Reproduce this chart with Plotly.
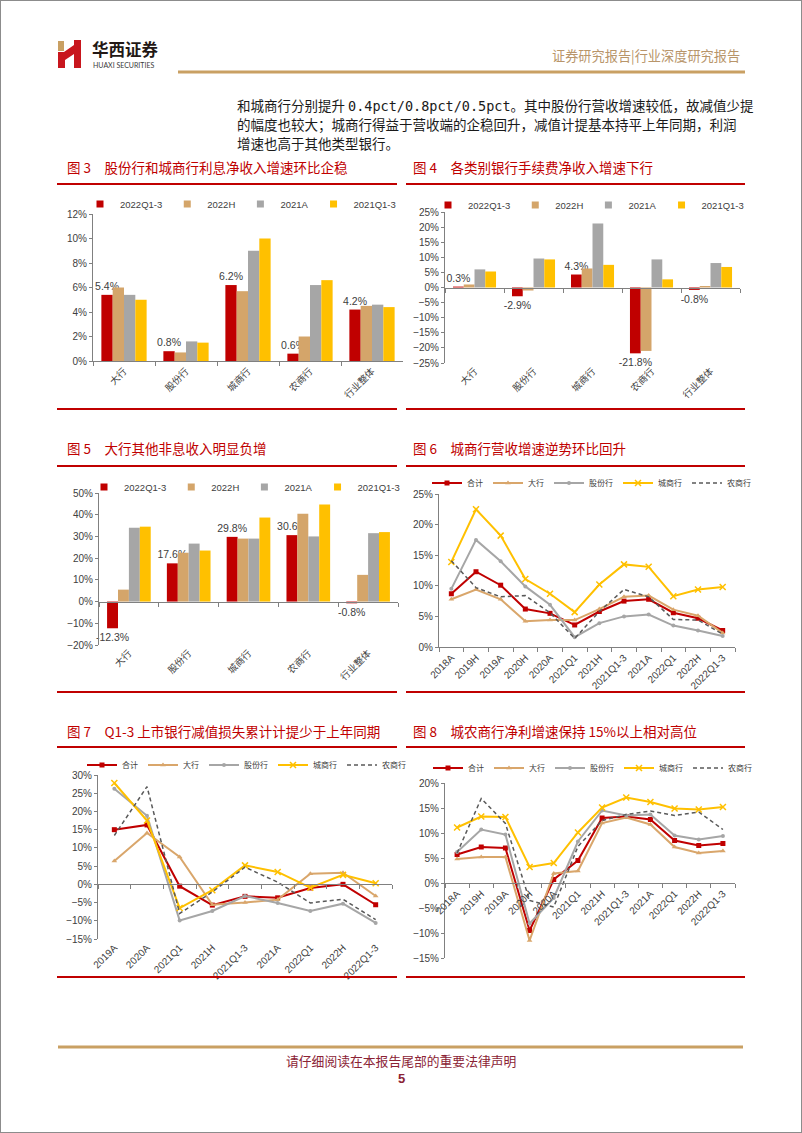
import plotly.graph_objects as go

W, H = 802, 1133
def X(p): return p / W
def Y(p): return 1 - p / H

LAT = "Liberation Sans, Arial, sans-serif"
CJK = "Noto Sans CJK SC, sans-serif"
AX = "#404040"
LINEC = "#808080"
RED = "#C00000"

# ---------------- data ----------------
banks = ["大行", "股份行", "城商行", "农商行", "行业整体"]
bar_series = ["2022Q1-3", "2022H", "2021A", "2021Q1-3"]
bar_colors = ["#C00000", "#D4A56A", "#A6A6A6", "#FFC000"]

# Fig 3: net interest income growth (%)
nii_2022q13 = [5.4, 0.8, 6.2, 0.6, 4.2]
nii_2022h = [6.0, 0.7, 5.7, 2.0, 4.5]
nii_2021a = [5.4, 1.6, 9.0, 6.2, 4.6]
nii_2021q13 = [5.0, 1.5, 10.0, 6.6, 4.4]

# Fig 4: fee income growth (%)
fee_2022q13 = [0.3, -2.9, 4.3, -21.8, -0.8]
fee_2022h = [1.0, -1.0, 6.3, -21.0, 0.5]
fee_2021a = [6.0, 9.6, 21.2, 9.3, 8.1]
fee_2021q13 = [5.3, 9.3, 7.5, 2.7, 6.8]

# Fig 5: other non-interest income growth (%)
oth_2022q13 = [-12.3, 17.6, 29.8, 30.6, -0.8]
oth_2022h = [5.5, 22.5, 29.0, 40.5, 12.3]
oth_2021a = [34.0, 26.7, 29.0, 30.0, 31.5]
oth_2021q13 = [34.5, 23.5, 38.7, 44.7, 32.0]

line_names = ["合计", "大行", "股份行", "城商行", "农商行"]
periods_a = ["2018A", "2019H", "2019A", "2020H", "2020A", "2021Q1", "2021H",
             "2021Q1-3", "2021A", "2022Q1", "2022H", "2022Q1-3"]
periods_b = ["2019A", "2020A", "2021Q1", "2021H", "2021Q1-3", "2021A",
             "2022Q1", "2022H", "2022Q1-3"]

# Fig 6: revenue growth (%)
rev_total = [8.7, 12.3, 10.1, 6.2, 5.5, 3.6, 5.8, 7.5, 7.8, 5.6, 4.7, 2.7]
rev_big = [7.8, 9.4, 7.8, 4.2, 4.4, 4.4, 6.2, 8.2, 8.4, 6.1, 5.1, 2.3]
rev_jsb = [9.5, 17.5, 14.0, 9.9, 6.9, 1.6, 3.9, 5.0, 5.3, 3.5, 2.7, 1.8]
rev_city = [13.9, 22.5, 18.2, 11.1, 8.7, 5.7, 10.2, 13.5, 13.1, 8.3, 9.4, 9.8]
rev_rural = [14.1, 9.7, 8.2, 8.4, 5.6, 1.4, 5.8, 9.4, 8.2, 4.5, 4.4, 2.1]

# Fig 7: impairment loss growth (%)
imp_total = [15.0, 16.3, -0.5, -5.7, -3.3, -3.7, -1.0, 0.0, -5.6]
imp_big = [6.4, 14.1, 7.5, -5.6, -5.0, -4.2, 2.9, 3.2, -3.2]
imp_jsb = [26.2, 18.8, -9.9, -7.3, -3.2, -5.1, -7.3, -5.3, -10.6]
imp_city = [27.8, 17.5, -6.5, -1.6, 5.2, 3.4, -0.9, 2.6, 0.3]
imp_rural = [13.4, 26.8, -8.0, -2.1, 4.7, 0.6, -5.1, -4.1, -9.7]

# Fig 8: net profit growth (%)
np_total = [5.7, 7.2, 7.0, -9.5, 0.7, 4.5, 13.0, 13.3, 12.7, 8.5, 7.5, 7.9]
np_big = [4.8, 5.2, 5.2, -11.5, 1.9, 2.4, 12.0, 13.1, 11.7, 7.2, 6.0, 6.4]
np_jsb = [6.2, 10.7, 9.7, -8.1, -3.0, 8.3, 14.5, 13.5, 13.7, 9.5, 8.7, 9.4]
np_city = [11.1, 13.3, 13.2, 3.2, 4.0, 10.1, 15.1, 17.1, 16.2, 14.9, 14.7, 15.2]
np_rural = [6.0, 16.9, 11.9, -3.5, -4.8, 7.3, 12.5, 13.7, 14.4, 13.5, 14.2, 10.7]

# ---------------- layout geometry ----------------
panels = {
    1: dict(x=(93, 403), y=(214, 361), r=(0, 12), d=2),
    2: dict(x=(445, 740), y=(212, 363), r=(-25, 25), d=5),
    3: dict(x=(99, 398), y=(493, 645), r=(-20, 50), d=10),
    4: dict(x=(439, 735), y=(494, 647), r=(0, 25), d=5),
    5: dict(x=(98, 392), y=(775, 939), r=(-15, 30), d=5),
    6: dict(x=(445, 735), y=(783, 958), r=(-15, 20), d=5),
}

def zero_pos(k):
    p = panels[k]
    y0, y1 = Y(p["y"][1]), Y(p["y"][0])
    return y0 + (y1 - y0) * (0 - p["r"][0]) / (p["r"][1] - p["r"][0])

def xref(k): return "x" if k == 1 else f"x{k}"
def yref(k): return "y" if k == 1 else f"y{k}"
def legref(k): return "legend" if k == 1 else f"legend{k}"

fig = go.Figure()

# ---------------- bar charts ----------------
bar_data = {
    1: [nii_2022q13, nii_2022h, nii_2021a, nii_2021q13],
    2: [fee_2022q13, fee_2022h, fee_2021a, fee_2021q13],
    3: [oth_2022q13, oth_2022h, oth_2021a, oth_2021q13],
}
for k, series in bar_data.items():
    for j, (name, vals) in enumerate(zip(bar_series, series)):
        kw = {}
        if j == 0:
            kw = dict(texttemplate="%{y:.1f}%", textposition="outside",
                      textfont=dict(family=LAT, size=10.5, color=AX),
                      constraintext="none", cliponaxis=False)
        fig.add_bar(x=banks, y=vals, name=name, marker=dict(color=bar_colors[j], line=dict(width=0)),
                    xaxis=xref(k), yaxis=yref(k), showlegend=False, hoverinfo="skip", **kw)
        fig.add_scatter(x=[None], y=[None], mode="markers", name=name,
                        marker=dict(symbol="square", size=7, color=bar_colors[j]),
                        xaxis=xref(k), yaxis=yref(k), legend=legref(k), showlegend=True)

# ---------------- line charts ----------------
line_styles = [
    dict(line=dict(color="#C00000", width=2), marker=dict(symbol="square", size=5, color="#C00000")),
    dict(line=dict(color="#D9A66B", width=2), marker=dict(symbol="triangle-up", size=5, color="#D9A66B")),
    dict(line=dict(color="#A6A6A6", width=2), marker=dict(symbol="circle", size=4, color="#A6A6A6")),
    dict(line=dict(color="#FFC000", width=2), marker=dict(symbol="x-thin", size=6, color="#FFC000",
                                                           line=dict(color="#FFC000", width=1.5))),
    dict(line=dict(color="#595959", width=1.5, dash="4px,3px"), marker=dict(size=1)),
]
line_data = {
    4: (periods_a, [rev_total, rev_big, rev_jsb, rev_city, rev_rural]),
    5: (periods_b, [imp_total, imp_big, imp_jsb, imp_city, imp_rural]),
    6: (periods_a, [np_total, np_big, np_jsb, np_city, np_rural]),
}
for k, (cats, series) in line_data.items():
    for j, (name, vals) in enumerate(zip(line_names, series)):
        st = line_styles[j]
        fig.add_scatter(x=cats, y=vals, name=name, mode="lines" if j == 4 else "lines+markers",
                        line=st["line"], marker=st["marker"], xaxis=xref(k), yaxis=yref(k),
                        legend=legref(k), showlegend=True, hoverinfo="skip", cliponaxis=False)

# overlay axes carrying the zero line with ticks (figs 4, 5, 7)
overlay = {2: (7, banks), 3: (8, banks), 5: (9, periods_b)}
for k, (oi, cats) in overlay.items():
    fig.add_scatter(x=cats, y=[None] * len(cats), mode="lines", xaxis=f"x{oi}", yaxis=yref(k),
                    showlegend=False, hoverinfo="skip")

# ---------------- axes ----------------
lay = {}
for k, p in panels.items():
    ncat = len(banks) if k <= 3 else len(line_data[k][0])
    xk = "xaxis" if k == 1 else f"xaxis{k}"
    yk = "yaxis" if k == 1 else f"yaxis{k}"
    is_bar = k <= 3
    tickfont = dict(family=CJK, size=9.5, color=AX) if is_bar else dict(family=LAT, size=10, color=AX)
    xa = dict(domain=[X(p["x"][0]), X(p["x"][1])], anchor=yref(k), type="category",
              range=[-0.5, ncat - 0.5], tickangle=-45, tickfont=tickfont, showgrid=False,
              zeroline=False, automargin=False, fixedrange=True)
    if k in (1, 4):
        xa.update(showline=True, linecolor=LINEC, linewidth=1, ticks="outside", ticklen=4,
                  tickcolor=LINEC, tickson="boundaries")
    elif k == 6:
        xa.update(anchor="free", position=zero_pos(6), showline=True, linecolor=LINEC, linewidth=1,
                  ticks="outside", ticklen=4, tickcolor=LINEC, tickson="boundaries")
    else:
        xa.update(showline=False, ticks="")
    lay[xk] = xa
    lay[yk] = dict(domain=[Y(p["y"][1]), Y(p["y"][0])], anchor=xref(k), range=list(p["r"]),
                   dtick=p["d"], tick0=0, ticksuffix="%", showline=True, linecolor=LINEC, linewidth=1,
                   ticks="outside", ticklen=3, tickcolor=LINEC, showgrid=False, zeroline=False,
                   tickfont=dict(family=LAT, size=10, color=AX), automargin=False, fixedrange=True)

for k, (oi, cats) in overlay.items():
    p = panels[k]
    lay[f"xaxis{oi}"] = dict(domain=[X(p["x"][0]), X(p["x"][1])], overlaying=xref(k), anchor="free",
                             position=zero_pos(k), type="category", range=[-0.5, len(cats) - 0.5],
                             showline=True, linecolor=LINEC, linewidth=1, ticks="outside", ticklen=4,
                             tickcolor=LINEC, tickson="boundaries", showticklabels=False,
                             showgrid=False, zeroline=False, automargin=False, fixedrange=True)

# ---------------- legends ----------------
def leg(xpx, ypx, size, family):
    return dict(orientation="h", x=X(xpx), y=Y(ypx), xanchor="left", yanchor="middle",
                font=dict(size=size, family=family, color=AX), bgcolor="rgba(0,0,0,0)",
                borderwidth=0, itemwidth=30, traceorder="normal")

lay["legend"] = leg(80, 204, 9.5, LAT)
lay["legend2"] = leg(428, 205, 9.5, LAT)
lay["legend3"] = leg(84, 487, 9.5, LAT)
lay["legend4"] = leg(427, 483, 8, CJK)
lay["legend5"] = leg(82, 765, 8, CJK)
lay["legend6"] = leg(428, 768, 8, CJK)

# ---------------- page decorations ----------------
shapes = []
annots = []

def hline(x0, x1, y, color, w):
    shapes.append(dict(type="line", xref="paper", yref="paper", x0=X(x0), x1=X(x1), y0=Y(y), y1=Y(y),
                       line=dict(color=color, width=w)))

def text(x, y, s, size, color, family=CJK, xanchor="left", bold=False):
    if bold:
        s = f"<b>{s}</b>"
    annots.append(dict(x=X(x), y=Y(y), xref="paper", yref="paper", text=s, showarrow=False,
                       xanchor=xanchor, yanchor="middle", font=dict(size=size, color=color, family=family)))

# page border
shapes.append(dict(type="rect", xref="paper", yref="paper", x0=0, x1=1, y0=0, y1=1,
                   line=dict(color="#8C8C8C", width=2)))

# logo
def P(pts):
    return "M" + " L".join(f"{X(a):.5f},{Y(b):.5f}" for a, b in pts) + " Z"
shapes.append(dict(type="path", xref="paper", yref="paper",
                   path=P([(58, 68), (58, 52), (64, 52), (74, 45), (74, 40), (81, 40), (81, 68),
                           (74, 68), (74, 54), (65, 60), (65, 68)]),
                   fillcolor="#C8161D", line=dict(width=0)))
shapes.append(dict(type="path", xref="paper", yref="paper",
                   path=P([(58, 41), (64, 41), (64, 51), (58, 51)]),
                   fillcolor="#C9A063", line=dict(width=0)))
text(90, 49, "华西证券", 16.5, "#231815", bold=True)
text(91, 64.5, "HUAXI SECURITIES", 7, "#3A3A3A", family="Lato, sans-serif")
text(742, 56, "证券研究报告|行业深度研究报告", 13.2, "#B8956A", xanchor="right")
hline(178, 745, 72, "#C9A063", 3)

# body text
mono = '<span style="font-family:DejaVu Sans Mono">0.4pct/0.8pct/0.5pct</span>'
text(235, 105, "和城商行分别提升 " + mono + "。其中股份行营收增速较低，故减值少提", 13.5, "#1A1A1A")
text(235, 124, "的幅度也较大；城商行得益于营收端的企稳回升，减值计提基本持平上年同期，利润", 13.5, "#1A1A1A")
text(235, 143, "增速也高于其他类型银行。", 13.5, "#1A1A1A")

# figure titles and rules
titles = [
    (65, 167, "图 3\u2003股份行和城商行利息净收入增速环比企稳"),
    (411, 167, "图 4\u2003各类别银行手续费净收入增速下行"),
    (65, 448, "图 5\u2003大行其他非息收入明显负增"),
    (411, 448, "图 6\u2003城商行营收增速逆势环比回升"),
    (65, 731, "图 7\u2003Q1-3 上市银行减值损失累计计提少于上年同期"),
    (411, 731, "图 8\u2003城农商行净利增速保持 15%以上相对高位"),
]
for x, y, s in titles:
    text(x, y, s, 13.5, RED)
for y in (184, 409, 466, 692, 747, 977):
    hline(57, 397, y, RED, 2)
    hline(406, 745, y, RED, 2)

# footer
hline(58, 743, 1047, "#C9A063", 3)
text(401, 1060, "请仔细阅读在本报告尾部的重要法律声明", 12.8, "#8B2335", xanchor="center")
text(401, 1078, "5", 13, "#8B2335", family=LAT, xanchor="center", bold=True)

fig.update_layout(
    template="none", width=W, height=H, margin=dict(l=0, r=0, t=0, b=0),
    paper_bgcolor="white", plot_bgcolor="rgba(0,0,0,0)",
    barmode="group", bargap=0.27, bargroupgap=0,
    shapes=shapes, annotations=annots, hovermode=False,
    font=dict(family=LAT, color=AX), **lay,
)

fig.write_html("out.html", config={"displayModeBar": False, "staticPlot": True},
               post_script="document.body.style.margin='0px';document.body.style.overflow='hidden';")
